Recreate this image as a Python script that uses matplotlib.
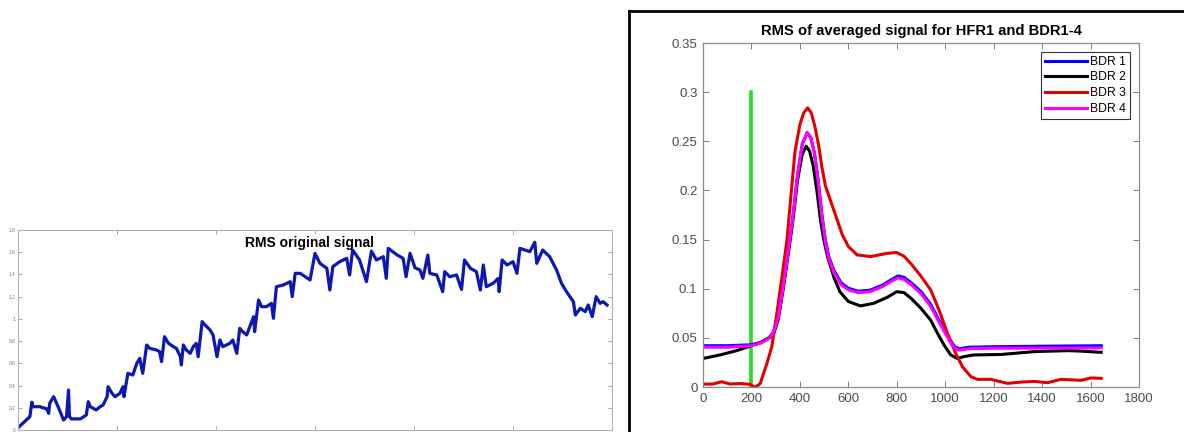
import numpy as np
import matplotlib
matplotlib.use("Agg")
import matplotlib.pyplot as plt
from matplotlib.lines import Line2D

plt.rcParams["font.family"] = ["Liberation Sans", "DejaVu Sans"]

# ---- left panel: RMS original signal, (sample, rms) ----
orig_points = [
    (0, 0.02), (12, 0.12), (14, 0.25), (15, 0.21), (22, 0.21), (29, 0.19),
    (31, 0.15), (32, 0.24), (36, 0.30), (41, 0.20), (46, 0.09), (49, 0.12),
    (51, 0.36), (52, 0.12), (54, 0.10), (63, 0.10), (69, 0.135), (71, 0.255),
    (73, 0.21), (79, 0.18), (83, 0.21), (86, 0.225), (90, 0.30), (91, 0.39),
    (95, 0.33), (98, 0.30), (103, 0.33), (106, 0.39), (107, 0.30), (111, 0.51),
    (116, 0.495), (120, 0.60), (123, 0.645), (126, 0.51), (130, 0.765),
    (133, 0.735), (140, 0.72), (143, 0.705), (145, 0.615), (148, 0.84),
    (152, 0.78), (157, 0.75), (160, 0.735), (164, 0.66), (165, 0.585),
    (167, 0.765), (170, 0.72), (174, 0.69), (177, 0.75), (180, 0.78),
    (182, 0.66), (186, 0.975), (189, 0.945), (194, 0.90), (197, 0.855),
    (201, 0.66), (204, 0.81), (207, 0.75), (214, 0.78), (217, 0.81),
    (221, 0.69), (224, 0.915), (227, 0.885), (231, 0.855), (236, 0.975),
    (238, 1.02), (239, 0.885), (243, 1.17), (246, 1.11), (251, 1.11),
    (256, 1.14), (258, 1.005), (261, 1.29), (268, 1.305), (275, 1.335),
    (277, 1.20), (280, 1.41), (285, 1.41), (295, 1.35), (300, 1.59),
    (305, 1.50), (312, 1.455), (315, 1.26), (318, 1.47), (325, 1.515),
    (332, 1.545), (335, 1.395), (338, 1.62), (345, 1.53), (352, 1.335),
    (357, 1.61), (362, 1.53), (369, 1.56), (372, 1.365), (374, 1.635),
    (383, 1.575), (389, 1.545), (392, 1.38), (396, 1.59), (401, 1.46),
    (406, 1.44), (409, 1.365), (414, 1.575), (416, 1.41), (423, 1.395),
    (429, 1.245), (431, 1.425), (436, 1.38), (443, 1.395), (448, 1.265),
    (451, 1.53), (457, 1.455), (463, 1.425), (467, 1.26), (470, 1.485),
    (473, 1.29), (480, 1.32), (485, 1.365), (486, 1.245), (489, 1.53),
    (494, 1.485), (500, 1.515), (504, 1.41), (507, 1.635), (517, 1.605),
    (522, 1.69), (524, 1.50), (530, 1.62), (537, 1.56), (544, 1.44),
    (549, 1.32), (554, 1.245), (561, 1.155), (563, 1.035), (568, 1.095),
    (573, 1.065), (576, 1.125), (580, 1.02), (584, 1.20), (588, 1.14),
    (591, 1.155), (595, 1.125),
]
orig_x = [p[0] for p in orig_points]
orig_y = [p[1] for p in orig_points]

# ---- right panel: RMS of averaged signal ----
bdr_x = [0, 100, 200, 240, 270, 290, 310, 330, 350, 370, 390, 410, 430, 445,
         460, 475, 490, 505, 520, 540, 570, 600, 640, 690, 740, 780, 805, 830,
         860, 900, 940, 970, 995, 1020, 1040, 1060, 1100, 1200, 1400, 1644]
bdr1 = [0.042, 0.042, 0.043, 0.0455, 0.0495, 0.0555, 0.0705, 0.1005, 0.1355,
        0.1705, 0.2155, 0.2475, 0.2585, 0.2535, 0.238, 0.211, 0.177, 0.15,
        0.132, 0.119, 0.106, 0.1005, 0.0975, 0.0985, 0.1035, 0.1095, 0.113,
        0.1115, 0.106, 0.097, 0.084, 0.07, 0.059, 0.048, 0.0405, 0.039, 0.0405,
        0.041, 0.0415, 0.042]
bdr4 = [0.0404, 0.0404, 0.042, 0.0448, 0.049, 0.055, 0.07, 0.1, 0.135, 0.17,
        0.215, 0.247, 0.259, 0.254, 0.238, 0.21, 0.175, 0.148, 0.13, 0.117,
        0.104, 0.099, 0.096, 0.097, 0.102, 0.108, 0.111, 0.1095, 0.104, 0.095,
        0.082, 0.068, 0.057, 0.046, 0.039, 0.0375, 0.039, 0.0394, 0.0396,
        0.0398]
bdr2_x = [0, 70, 139, 200, 236, 277, 290, 310, 330, 350, 370, 390, 410, 426,
          440, 455, 470, 485, 500, 515, 540, 565, 600, 650, 705, 761, 800, 830,
          860, 900, 940, 968, 995, 1023, 1050, 1078, 1119, 1230, 1368, 1506,
          1561, 1644]
bdr2 = [0.029, 0.0326, 0.037, 0.042, 0.045, 0.0506, 0.053, 0.068, 0.098, 0.132,
        0.167, 0.21, 0.237, 0.245, 0.24, 0.225, 0.2, 0.17, 0.148, 0.132, 0.112,
        0.097, 0.087, 0.0825, 0.0852, 0.0913, 0.097, 0.096, 0.09, 0.08, 0.068,
        0.0547, 0.0428, 0.0326, 0.029, 0.031, 0.0326, 0.0331, 0.036, 0.037,
        0.0365, 0.0353]
bdr3_x = [0, 40, 77, 112, 153, 195, 215, 236, 264, 284, 305, 326, 347, 365,
          380, 400, 416, 432, 447, 462, 478, 490, 505, 526, 554, 575, 600, 636,
          691, 761, 800, 830, 860, 899, 940, 975, 1009, 1043, 1071, 1106, 1133,
          1188, 1257, 1313, 1368, 1423, 1478, 1561, 1602, 1644]
bdr3 = [0.003, 0.003, 0.0054, 0.003, 0.0035, 0.0027, -0.0005, 0.0035, 0.024,
        0.041, 0.075, 0.112, 0.15, 0.2, 0.24, 0.267, 0.279, 0.284, 0.279,
        0.265, 0.245, 0.225, 0.205, 0.19, 0.17, 0.155, 0.143, 0.1344, 0.1327,
        0.136, 0.1368, 0.133, 0.125, 0.113, 0.0988, 0.078, 0.0547, 0.0343,
        0.0207, 0.0105, 0.0078, 0.0078, 0.0037, 0.005, 0.0057, 0.0044, 0.0078,
        0.0068, 0.0092, 0.0088]
marker_x = [200, 200]
marker_y = [0, 0.3]

fig = plt.figure(figsize=(11.84, 4.32), dpi=100)

# left panel
ax1 = fig.add_axes([18/1184, 2/432, 594/1184, 200/432])
ax1.plot(orig_x, orig_y, color="#0c18b0", lw=2.3)
ax1.set_xlim(0, 600)
ax1.set_ylim(0, 1.8)
ax1.set_xticks(np.arange(0, 601, 100))
ax1.set_xticklabels([])
yt = np.arange(0, 1.81, 0.2)
ax1.set_yticks(yt)
ax1.set_yticklabels(["%g" % round(v, 1) for v in yt])
ax1.tick_params(direction="in", top=True, right=True, length=3, width=0.6,
                colors="#9a9a9a", labelsize=3.5, labelcolor="#777777", pad=2)
for s in ax1.spines.values():
    s.set_color("#b0b0b0")
    s.set_linewidth(0.8)
ax1.text(0.49, 0.935, "RMS original signal", transform=ax1.transAxes,
         ha="center", va="center", fontsize=10, fontweight="bold")

# right panel
ax2 = fig.add_axes([703/1184, 45/432, 436/1184, 344/432])
ax2.plot(marker_x, marker_y, color="#1ee01e", lw=2.6)
ax2.plot(bdr_x, bdr1, color="#0000ff", lw=2.2, label="BDR 1")
ax2.plot(bdr2_x, bdr2, color="black", lw=2.2, label="BDR 2")
ax2.plot(bdr3_x, bdr3, color="#e00000", lw=2.2, label="BDR 3")
ax2.plot(bdr_x, bdr4, color="#ff00ff", lw=2.2, label="BDR 4")
ax2.set_xlim(0, 1800)
ax2.set_ylim(0, 0.35)
ax2.set_xticks(np.arange(0, 1801, 200))
ax2.set_yticks(np.arange(0, 0.351, 0.05))
ax2.set_yticklabels(["0", "0.05", "0.1", "0.15", "0.2", "0.25", "0.3", "0.35"])
ax2.tick_params(direction="in", top=True, right=True, length=4, width=0.7,
                colors="#808080", labelsize=9.5, labelcolor="#4a4a4a", pad=4)
for s in ax2.spines.values():
    s.set_color("#8a8a8a")
    s.set_linewidth(0.9)
ax2.set_title("RMS of averaged signal for HFR1 and BDR1-4", fontsize=10.6,
              fontweight="bold", pad=6)
leg = ax2.legend(loc="upper right", fontsize=8.8, handlelength=3.4,
                 fancybox=False, framealpha=1, edgecolor="#333333",
                 borderaxespad=0.7, labelspacing=0.3, handletextpad=0.3,
                 borderpad=0.35)
leg.get_frame().set_linewidth(0.8)

# black frame of the second window
fx, fy = 629/1184, 1 - 11/432
fig.add_artist(Line2D([fx, fx], [0, fy], color="black", lw=2))
fig.add_artist(Line2D([fx, 1], [fy, fy], color="black", lw=2))

fig.savefig("out.png", dpi=100)
